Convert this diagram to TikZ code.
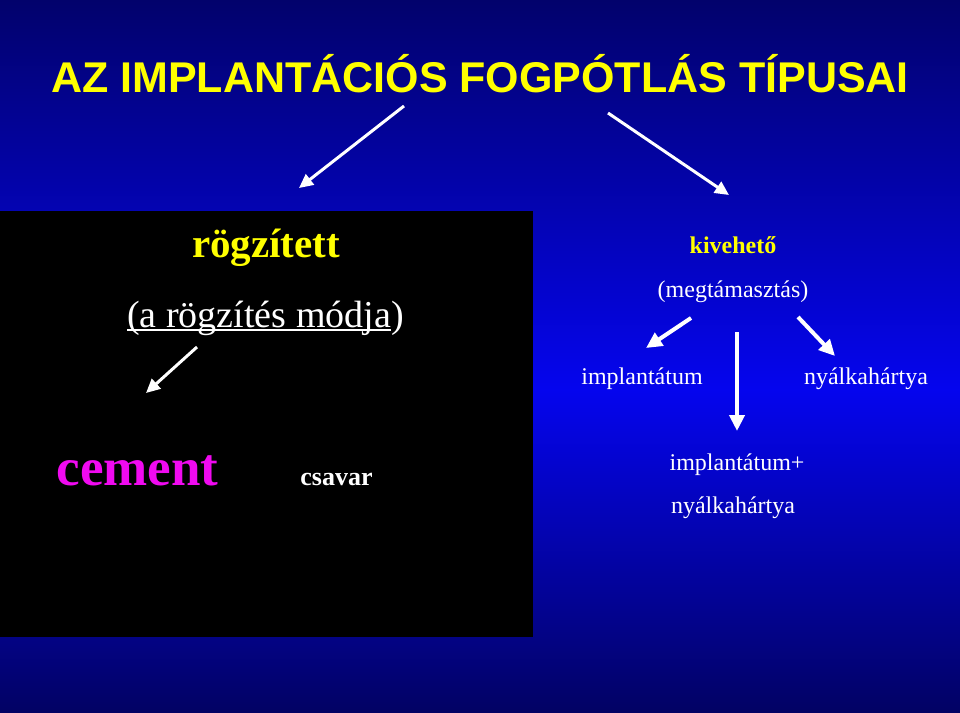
\documentclass[tikz,border=0pt]{standalone}
\usepackage{fontspec}
\setmainfont{Liberation Serif}
\newfontfamily\arialfont{Liberation Sans}
\usetikzlibrary{arrows.meta}
\definecolor{navytop}{RGB}{2,2,108}
\definecolor{brightblue}{RGB}{5,5,238}
\definecolor{navybot}{RGB}{2,2,100}
\definecolor{ttlyellow}{RGB}{255,255,0}
\definecolor{mag}{RGB}{240,10,240}
\tikzset{
  txt/.style={inner sep=0pt, anchor=base, text=white},
  arrw/.style={draw=white, line width=3pt, -{Triangle[length=14pt,width=13pt]}},
  arrwb/.style={draw=white, line width=4pt, -{Triangle[length=16pt,width=15pt]}},
}
\begin{document}
\begin{tikzpicture}[x=1pt,y=-1pt]
\useasboundingbox (0,0) rectangle (960,712);
\shade[top color=navytop, bottom color=brightblue] (0,0) rectangle (960,390);
\shade[top color=brightblue, bottom color=navybot] (0,389.5) rectangle (960,712);
\fill[black] (0,211) rectangle (533,637);

% title
\node[txt, text=ttlyellow] (title) at (480,92)
  {\arialfont\bfseries\fontsize{43}{48}\selectfont AZ IMPLANTÁCIÓS FOGPÓTLÁS TÍPUSAI};

% left block
\node[txt, text=ttlyellow] (rogz) at (266,257)
  {\bfseries\fontsize{41}{46}\selectfont rögzített};
\node[txt, anchor=base west] (mod) at (127,327)
  {\fontsize{38}{42}\selectfont (a rögzítés módja};
\node[txt, anchor=base west] (modp) at (mod.base east)
  {\fontsize{38}{42}\selectfont )};
\draw[white, line width=1.6pt] ([yshift=-3pt]mod.base west) -- ([yshift=-3pt]mod.base east);
\node[txt, text=mag] (cement) at (137.5,485)
  {\bfseries\fontsize{53}{58}\selectfont cement};
\node[txt] (csavar) at (336.5,485)
  {\bfseries\fontsize{26}{30}\selectfont csavar};

% right block
\node[txt, text=ttlyellow] (kiv) at (733,253)
  {\bfseries\fontsize{24}{28}\selectfont kivehető};
\node[txt] (megt) at (733,297)
  {\fontsize{24}{28}\selectfont (megtámasztás)};
\node[txt] (impl) at (642,384)
  {\fontsize{24}{28}\selectfont implantátum};
\node[txt] (nyal) at (866,384)
  {\fontsize{24}{28}\selectfont nyálkahártya};
\node[txt] (implp) at (737,470)
  {\fontsize{24}{28}\selectfont implantátum+};
\node[txt] (nyal2) at (733,513)
  {\fontsize{24}{28}\selectfont nyálkahártya};

% arrow endpoints
\coordinate (a1s) at (404,106); \coordinate (a1e) at (299,188);
\coordinate (a2s) at (608,113); \coordinate (a2e) at (729,195);
\coordinate (a3s) at (197,347); \coordinate (a3e) at (146,393);
\coordinate (a4s) at (691,318); \coordinate (a4e) at (646,348);
\coordinate (a5s) at (737,332); \coordinate (a5e) at (737,431);
\coordinate (a6s) at (798,317); \coordinate (a6e) at (835,356);

\draw[arrw] (a1s) -- (a1e);
\draw[arrw] (a2s) -- (a2e);
\draw[arrw] (a3s) -- (a3e);
\draw[arrwb] (a4s) -- (a4e);
\draw[arrwb] (a5s) -- (a5e);
\draw[arrwb] (a6s) -- (a6e);
\end{tikzpicture}
\end{document}
